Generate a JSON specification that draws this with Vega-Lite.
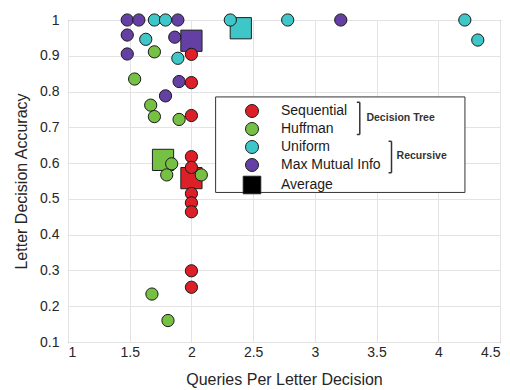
{
  "$schema": "https://vega.github.io/schema/vega-lite/v6.json",
  "width": 432,
  "height": 322,
  "autosize": {"type": "none"},
  "padding": {"left": 68, "top": 20, "right": 10, "bottom": 48},
  "background": "white",
  "config": {
    "font": "Liberation Sans",
    "view": {"stroke": "#5a5a5a", "strokeWidth": 1},
    "point": {"size": 150},
    "square": {"size": 450},
    "axis": {
      "grid": true,
      "gridColor": "#e3e3e3",
      "domain": false,
      "ticks": false,
      "labelFontSize": 14,
      "labelColor": "#262626",
      "titleFontSize": 16,
      "titleFontWeight": "normal",
      "titleColor": "#262626"
    }
  },
  "datasets": {
    "points": [
      {"series": "Sequential", "x": 2.0, "y": 0.904},
      {"series": "Sequential", "x": 2.0, "y": 0.825},
      {"series": "Sequential", "x": 2.0, "y": 0.733},
      {"series": "Sequential", "x": 2.0, "y": 0.618},
      {"series": "Sequential", "x": 2.0, "y": 0.588},
      {"series": "Sequential", "x": 2.0, "y": 0.515},
      {"series": "Sequential", "x": 2.0, "y": 0.489},
      {"series": "Sequential", "x": 2.0, "y": 0.464},
      {"series": "Sequential", "x": 2.0, "y": 0.299},
      {"series": "Sequential", "x": 2.0, "y": 0.253},
      {"series": "Huffman", "x": 1.70, "y": 0.911},
      {"series": "Huffman", "x": 1.54, "y": 0.835},
      {"series": "Huffman", "x": 1.67, "y": 0.762},
      {"series": "Huffman", "x": 1.70, "y": 0.730},
      {"series": "Huffman", "x": 1.90, "y": 0.722},
      {"series": "Huffman", "x": 1.84, "y": 0.598},
      {"series": "Huffman", "x": 1.80, "y": 0.567},
      {"series": "Huffman", "x": 2.08, "y": 0.567},
      {"series": "Huffman", "x": 1.68, "y": 0.234},
      {"series": "Huffman", "x": 1.81, "y": 0.160},
      {"series": "Uniform", "x": 1.70, "y": 1.0},
      {"series": "Uniform", "x": 1.79, "y": 1.0},
      {"series": "Uniform", "x": 2.315, "y": 1.0},
      {"series": "Uniform", "x": 2.78, "y": 1.0},
      {"series": "Uniform", "x": 4.215, "y": 1.0},
      {"series": "Uniform", "x": 4.32, "y": 0.944},
      {"series": "Uniform", "x": 1.63, "y": 0.946},
      {"series": "Uniform", "x": 1.89, "y": 0.893},
      {"series": "Max Mutual Info", "x": 1.48, "y": 1.0},
      {"series": "Max Mutual Info", "x": 1.574, "y": 1.0},
      {"series": "Max Mutual Info", "x": 1.89, "y": 1.0},
      {"series": "Max Mutual Info", "x": 3.21, "y": 1.0},
      {"series": "Max Mutual Info", "x": 1.48, "y": 0.958},
      {"series": "Max Mutual Info", "x": 1.865, "y": 0.952},
      {"series": "Max Mutual Info", "x": 1.48, "y": 0.905},
      {"series": "Max Mutual Info", "x": 1.90, "y": 0.828},
      {"series": "Max Mutual Info", "x": 1.79, "y": 0.788}
    ],
    "averages": [
      {"series": "Sequential", "x": 2.0, "y": 0.558},
      {"series": "Huffman", "x": 1.77, "y": 0.609},
      {"series": "Uniform", "x": 2.40, "y": 0.977},
      {"series": "Max Mutual Info", "x": 2.0, "y": 0.942}
    ],
    "box": [
      {"x": 2.196, "y": 0.785, "x2": 4.216, "y2": 0.518}
    ],
    "brackets": [
      {"x": 3.364, "y": 0.770, "x2": 3.364, "y2": 0.680},
      {"x": 3.340, "y": 0.770, "x2": 3.364, "y2": 0.770},
      {"x": 3.340, "y": 0.680, "x2": 3.364, "y2": 0.680},
      {"x": 3.621, "y": 0.661, "x2": 3.621, "y2": 0.573},
      {"x": 3.597, "y": 0.661, "x2": 3.621, "y2": 0.661},
      {"x": 3.597, "y": 0.573, "x2": 3.621, "y2": 0.573}
    ],
    "notes": [
      {"x": 3.418, "y": 0.727, "label": "Decision Tree"},
      {"x": 3.662, "y": 0.619, "label": "Recursive"}
    ]
  },
  "encoding": {
    "x": {
      "field": "x",
      "type": "quantitative",
      "scale": {"domain": [1, 4.5], "nice": false, "zero": false},
      "axis": {
        "title": "Queries Per Letter Decision",
        "values": [1, 1.5, 2, 2.5, 3, 3.5, 4, 4.5],
        "format": "~g",
        "labelPadding": 3,
        "titlePadding": 12
      }
    },
    "y": {
      "field": "y",
      "type": "quantitative",
      "scale": {"domain": [0.1, 1], "nice": false, "zero": false},
      "axis": {
        "title": "Letter Decision Accuracy",
        "values": [0.1, 0.2, 0.3, 0.4, 0.5, 0.6, 0.7, 0.8, 0.9, 1],
        "format": "~g",
        "labelPadding": 9,
        "titlePadding": 10
      }
    }
  },
  "layer": [
    {
      "data": {"name": "box"},
      "mark": {"type": "rect", "fill": "white", "stroke": "#333333", "strokeWidth": 1},
      "encoding": {
        "x2": {"field": "x2"},
        "y2": {"field": "y2"}
      }
    },
    {
      "data": {"name": "averages"},
      "mark": {"type": "square", "opacity": 1, "stroke": "#1f1f1f", "strokeWidth": 1},
      "encoding": {
        "color": {"field": "series", "type": "nominal"}
      }
    },
    {
      "data": {"name": "points"},
      "mark": {"type": "point", "filled": true, "opacity": 1, "stroke": "#1a1a1a", "strokeWidth": 1},
      "encoding": {
        "color": {
          "field": "series",
          "type": "nominal",
          "scale": {
            "domain": ["Sequential", "Huffman", "Uniform", "Max Mutual Info", "Average"],
            "range": ["#dd2027", "#76c043", "#3fc6c9", "#6440a5", "#000000"]
          },
          "legend": {
            "title": null,
            "orient": "none",
            "legendX": 147,
            "legendY": 79,
            "direction": "vertical",
            "padding": 5,
            "symbolSize": 169,
            "symbolOffset": 25,
            "labelOffset": 22,
            "rowPadding": 0,
            "labelFontSize": 14,
            "labelColor": "#1a1a1a",
            "symbolStrokeColor": "#1a1a1a",
            "symbolStrokeWidth": 1
          }
        },
        "shape": {
          "field": "series",
          "type": "nominal",
          "scale": {
            "domain": ["Sequential", "Huffman", "Uniform", "Max Mutual Info", "Average"],
            "range": ["circle", "circle", "circle", "circle", "M-1.35,-1.35H1.35V1.35H-1.35Z"]
          }
        }
      }
    },
    {
      "data": {"name": "brackets"},
      "mark": {"type": "rule", "color": "#333333", "strokeWidth": 1.5},
      "encoding": {
        "x2": {"field": "x2"},
        "y2": {"field": "y2"}
      }
    },
    {
      "data": {"name": "notes"},
      "mark": {"type": "text", "align": "left", "baseline": "middle", "fontWeight": "bold", "fontSize": 10.5, "color": "#333333"},
      "encoding": {
        "text": {"field": "label"}
      }
    }
  ]
}
